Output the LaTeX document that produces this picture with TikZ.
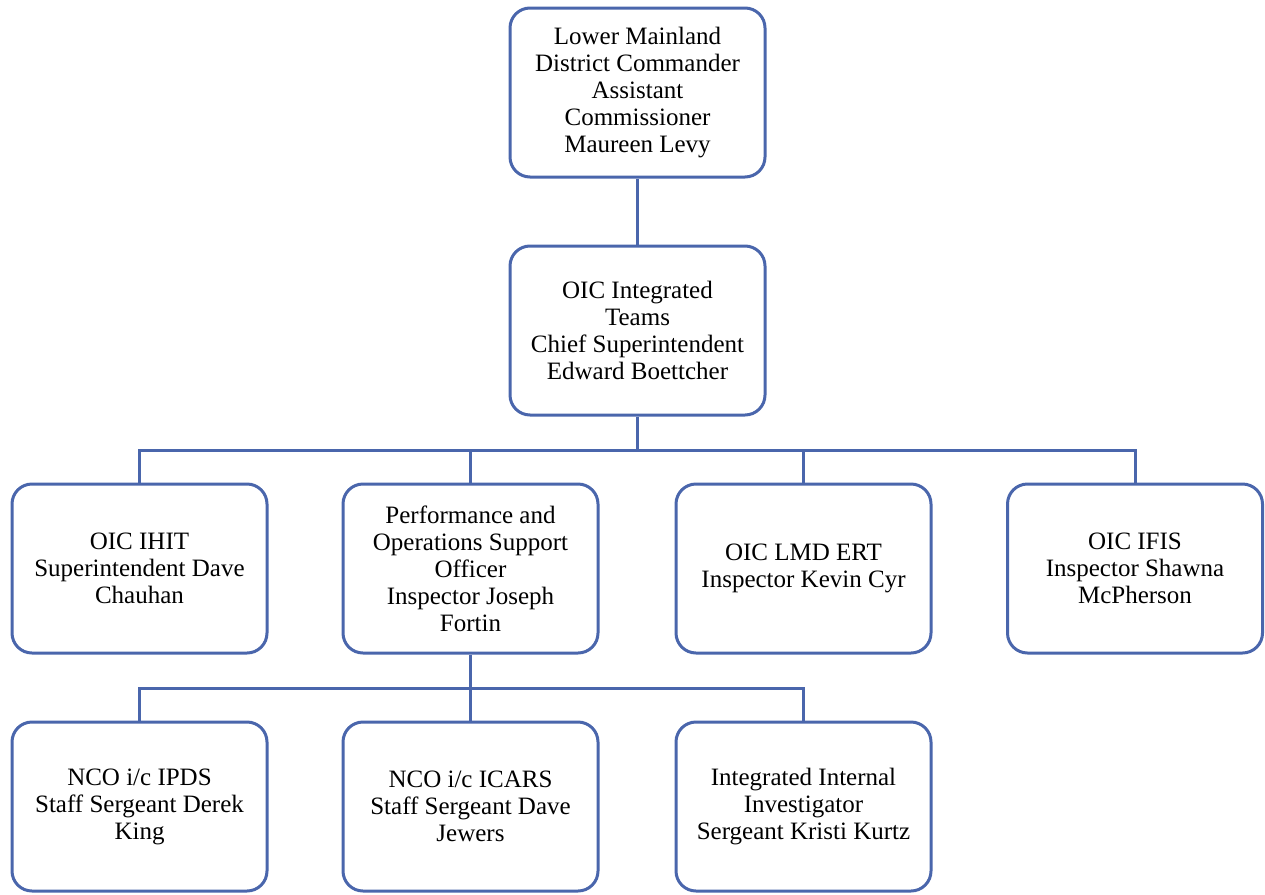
\documentclass[tikz,border=0pt]{standalone}
\usepackage{fontspec}
\setmainfont{Liberation Serif}
\definecolor{orgblue}{HTML}{4A66AC}
\begin{document}
\begin{tikzpicture}[x=1pt,y=-1pt,
  unit/.style={draw=orgblue, line width=3pt, rounded corners=20pt, fill=white,
    minimum width=255pt, minimum height=169pt, align=center,
    font=\fontsize{25}{27}\selectfont, inner sep=4pt},
  link/.style={draw=orgblue, line width=3pt}]
\useasboundingbox (0,0) rectangle (1265,894);

% top of the chain
\node[unit] (ac) at (637.5,92.5) {Lower Mainland\\District Commander\\Assistant\\Commissioner\\Maureen Levy};
\node[unit] (oic) at (637.5,330.5) {OIC Integrated\\Teams\\Chief Superintendent\\Edward Boettcher};

% units reporting to the OIC
\node[unit] (ihit) at (139.5,568.5) {OIC IHIT\\Superintendent Dave\\Chauhan};
\node[unit] (pos) at (470.5,568.5) {Performance and\\Operations Support\\Officer\\Inspector Joseph\\Fortin};
\node[unit] (ert) at (803.5,568.5) {OIC LMD ERT\\Inspector Kevin Cyr};
\node[unit] (ifis) at (1135,568.5) {OIC IFIS\\Inspector Shawna\\McPherson};

% staff under the support officer
\node[unit] (ipds) at (139.5,806.5) {NCO i/c IPDS\\Staff Sergeant Derek\\King};
\node[unit] (icars) at (470.5,806.5) {NCO i/c ICARS\\Staff Sergeant Dave\\Jewers};
\node[unit] (iii) at (803.5,806.5) {Integrated Internal\\Investigator\\Sergeant Kristi Kurtz};

% connectors
\coordinate (busA) at (637.5,450);
\coordinate (busB) at (470.5,688);
\draw[link] (ac) -- (oic);
\draw[link] (oic) -- (busA);
\draw[link] (ihit.north) |- (busA) -| (ifis.north);
\draw[link] (pos.north) -- (pos.north |- busA);
\draw[link] (ert.north) -- (ert.north |- busA);
\draw[link] (pos.south) -- (busB);
\draw[link] (ipds.north) |- (busB) -| (iii.north);
\draw[link] (icars.north) -- (busB);
\end{tikzpicture}
\end{document}
